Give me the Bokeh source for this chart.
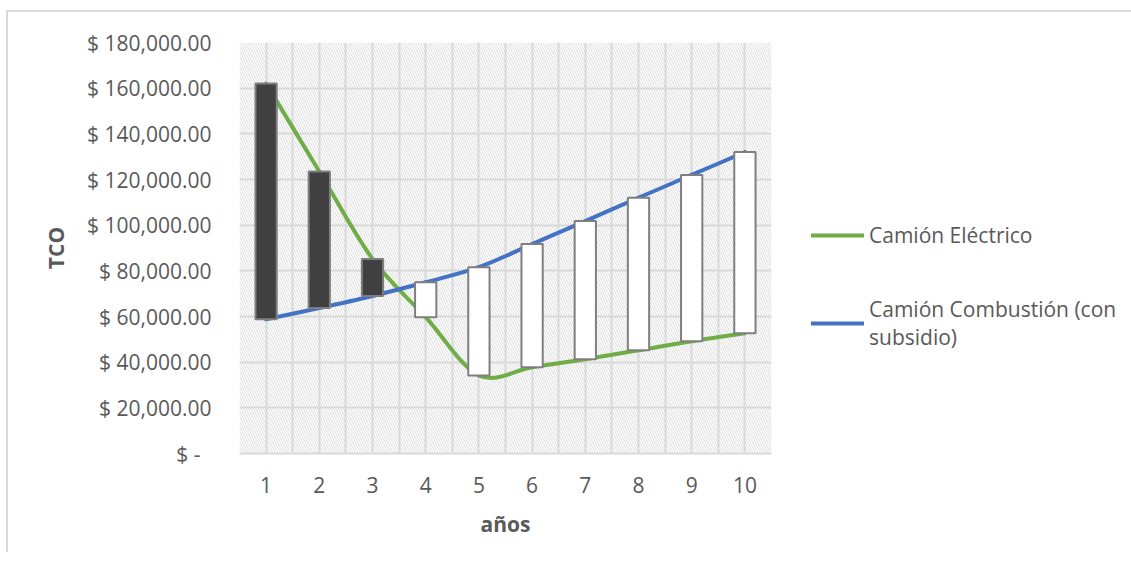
from bokeh.plotting import figure
from bokeh.models import (Range1d, FixedTicker, SingleIntervalTicker, CustomJSTickFormatter,
                          Legend, LegendItem, BoxAnnotation, ColumnDataSource)
from bokeh.embed import file_html
from bokeh.resources import INLINE

# ---- data ----
anios = [1, 2, 3, 4, 5, 6, 7, 8, 9, 10]
electrico = [162000, 123500, 85200, 59700, 34200, 37800, 41300, 45200, 49200, 52700]
combustion = [58800, 63700, 69000, 75000, 81600, 91700, 101800, 112000, 122000, 132000]
serie_electrico = "Camión Eléctrico"
serie_combustion = "Camión Combustión (con\nsubsidio)"
titulo_y = "TCO"
titulo_x = "años"

FONT = "Open Sans"
TXT = "#595959"
GREEN = "#70AD47"
BLUE = "#4472C4"
GRID = "#d9d9d9"


def bezier_source(xs, ys):
    """Smooth (Excel-like) curve: cubic Bezier segments through the data points."""
    n = len(xs)
    d = dict(x0=[], y0=[], x1=[], y1=[], cx0=[], cy0=[], cx1=[], cy1=[])
    for i in range(n - 1):
        x0, y0 = xs[i], ys[i]
        x1, y1 = xs[i + 1], ys[i + 1]
        xp, yp = (xs[i - 1], ys[i - 1]) if i > 0 else (x0, y0)
        xn, yn = (xs[i + 2], ys[i + 2]) if i + 2 < n else (x1, y1)
        d["x0"].append(x0); d["y0"].append(y0)
        d["x1"].append(x1); d["y1"].append(y1)
        d["cx0"].append(x0 + (x1 - xp) / 6.0); d["cy0"].append(y0 + (y1 - yp) / 6.0)
        d["cx1"].append(x1 - (xn - x0) / 6.0); d["cy1"].append(y1 - (yn - y0) / 6.0)
    return ColumnDataSource(d)


p = figure(frame_width=532, frame_height=411, output_backend="svg", toolbar_location=None,
           x_range=Range1d(0.5, 10.5), y_range=Range1d(0, 180000),
           min_border_left=231, min_border_right=340, min_border_top=30, min_border_bottom=99)
p.styles = {"border-top": "2px solid #d9d9d9", "border-left": "2px solid #d9d9d9",
            "margin-top": "10px", "margin-left": "6px"}
p.outline_line_color = None
p.background_fill_color = "white"
p.border_fill_color = "white"

# hatched plot area background (under the grid)
bg = BoxAnnotation(fill_color="white", fill_alpha=1.0, line_alpha=0,
                   hatch_pattern="\\", hatch_color="#dcdcdc", hatch_weight=1.0,
                   hatch_scale=5, level="image")
p.add_layout(bg)

# grids
p.ygrid.ticker = SingleIntervalTicker(interval=20000)
p.ygrid.grid_line_color = GRID
p.ygrid.grid_line_width = 2
p.xgrid.ticker = FixedTicker(ticks=[a - 0.5 for a in anios] + [a for a in anios] + [anios[-1] + 0.5])
p.xgrid.grid_line_color = GRID
p.xgrid.grid_line_width = 2

# axes
p.yaxis.ticker = SingleIntervalTicker(interval=20000)
p.yaxis.formatter = CustomJSTickFormatter(code="""
    if (tick == 0) { return "$ -\u00a0\u00a0"; }
    return "$ " + tick.toLocaleString('en-US', {minimumFractionDigits: 2, maximumFractionDigits: 2});
""")
p.yaxis.axis_line_color = None
p.yaxis.major_tick_line_color = None
p.yaxis.minor_tick_line_color = None
p.yaxis.major_label_standoff = 22
p.yaxis.axis_label = titulo_y
p.yaxis.axis_label_standoff = 14

p.xaxis.ticker = FixedTicker(ticks=anios)
p.xaxis.axis_line_color = "#d9d9d9"
p.xaxis.axis_line_width = 2
p.xaxis.major_tick_line_color = None
p.xaxis.minor_tick_line_color = None
p.xaxis.major_label_standoff = 17
p.xaxis.axis_label = titulo_x
p.xaxis.axis_label_standoff = 14

for ax in (p.xaxis[0], p.yaxis[0]):
    ax.major_label_text_font = FONT
    ax.major_label_text_font_size = "21px"
    ax.major_label_text_color = TXT
    ax.axis_label_text_font = FONT
    ax.axis_label_text_font_size = "21px"
    ax.axis_label_text_font_style = "bold"
    ax.axis_label_text_color = TXT

# smooth lines
r_el = p.bezier(x0="x0", y0="y0", x1="x1", y1="y1", cx0="cx0", cy0="cy0", cx1="cx1", cy1="cy1",
                source=bezier_source(anios, electrico), line_color=GREEN, line_width=4, line_cap="round")
r_co = p.bezier(x0="x0", y0="y0", x1="x1", y1="y1", cx0="cx0", cy0="cy0", cx1="cx1", cy1="cy1",
                source=bezier_source(anios, combustion), line_color=BLUE, line_width=4, line_cap="round")

# up / down bars
tops = [max(a, b) for a, b in zip(electrico, combustion)]
bottoms = [min(a, b) for a, b in zip(electrico, combustion)]
fills = ["#404040" if a > b else "white" for a, b in zip(electrico, combustion)]
bars = ColumnDataSource(dict(x=anios, top=tops, bottom=bottoms, fill=fills))
p.vbar(x="x", top="top", bottom="bottom", width=0.4, source=bars, fill_color="fill",
       line_color="#7f7f7f", line_width=2)

legend = Legend(items=[LegendItem(label=serie_electrico, renderers=[r_el]),
                       LegendItem(label=serie_combustion, renderers=[r_co])],
                location=(40, 102), orientation="vertical",
                glyph_width=53, glyph_height=22, label_standoff=5, spacing=46,
                padding=0, margin=0, border_line_alpha=0, background_fill_alpha=0,
                label_text_font=FONT, label_text_font_size="21px", label_text_color=TXT,
                label_text_line_height=1.35)
p.add_layout(legend, "right")

open("out.html", "w").write(file_html(p, INLINE))
